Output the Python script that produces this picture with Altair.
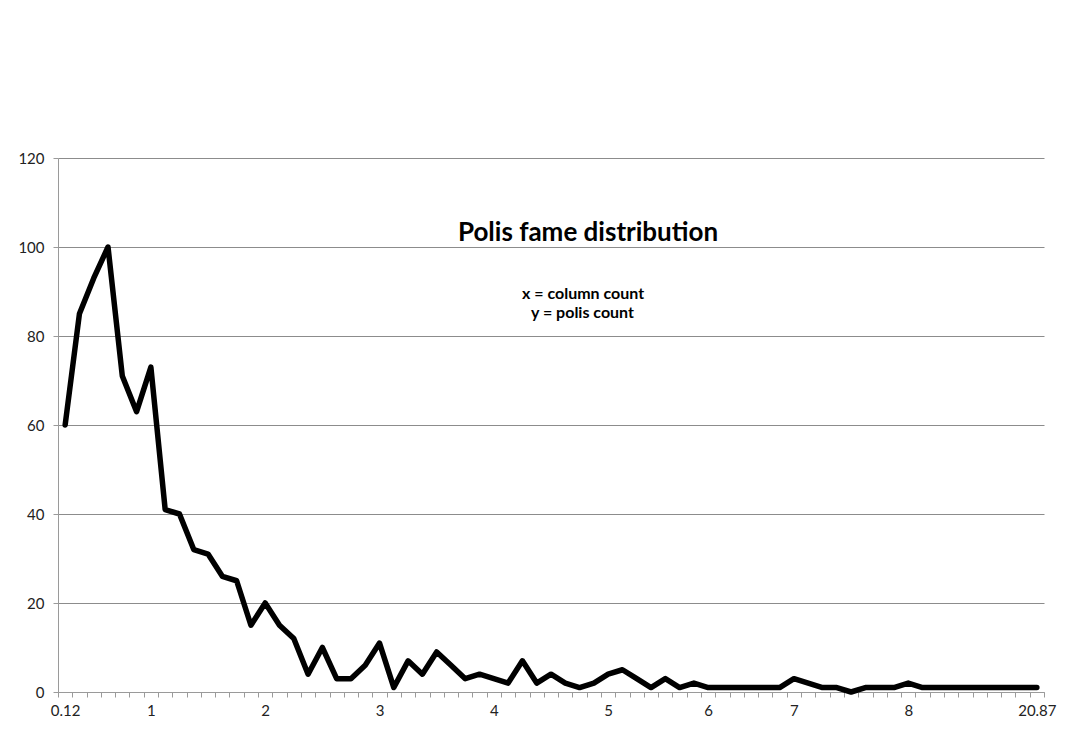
import json
import altair as alt
import pandas as pd

# polis count per column-count category (69 categories)
counts = [60, 85, 93, 100, 71, 63, 73, 41, 40, 32,
          31, 26, 25, 15, 20, 15, 12, 4, 10, 3,
          3, 6, 11, 1, 7, 4, 9, 6, 3, 4,
          3, 2, 7, 2, 4, 2, 1, 2, 4, 5,
          3, 1, 3, 1, 2, 1, 1, 1, 1, 1,
          1, 3, 2, 1, 1, 0, 1, 1, 1, 2,
          1, 1, 1, 1, 1, 1, 1, 1, 1]

# categories that carry a visible label on the x axis
label_index = [0, 6, 14, 22, 30, 38, 45, 51, 59, 68]
label_text = ["0.12", "1", "2", "3", "4", "5", "6", "7", "8", "20.87"]

y_ticks = [0, 20, 40, 60, 80, 100, 120]

title_text = "Polis fame distribution"
note_lines = ["x = column count", "y = polis count"]

df = pd.DataFrame({"idx": list(range(len(counts))), "count": counts})

label_expr = (
    f"indexof({json.dumps(label_index)}, datum.value) >= 0 ? "
    f"{json.dumps(label_text)}[indexof({json.dumps(label_index)}, datum.value)] : ''"
)

FONT = "Lato"
AXIS_GRAY = "#9a9a9a"

line = alt.Chart(df).mark_line(
    color="black", strokeWidth=5.5, strokeJoin="round", strokeCap="round"
).encode(
    x=alt.X(
        "idx:O",
        scale=alt.Scale(paddingInner=0, paddingOuter=0),
        axis=alt.Axis(
            title=None,
            labelAngle=0,
            labelExpr=label_expr,
            labelOverlap=False,
            tickBand="extent",
            tickSize=5,
            tickColor=AXIS_GRAY,
            domainColor=AXIS_GRAY,
            grid=False,
            labelFont=FONT,
            labelFontSize=15,
            labelColor="#222222",
            labelPadding=6,
        ),
    ),
    y=alt.Y(
        "count:Q",
        scale=alt.Scale(domain=[0, 120], nice=False, zero=True),
        axis=alt.Axis(
            title=None,
            values=y_ticks,
            grid=True,
            gridColor="#8c8c8c",
            gridWidth=1,
            tickSize=5,
            tickColor=AXIS_GRAY,
            domainColor=AXIS_GRAY,
            labelFont=FONT,
            labelFontSize=15,
            labelColor="#222222",
            labelPadding=9,
        ),
    ),
)

title_mark = alt.Chart(pd.DataFrame({"t": [title_text]})).mark_text(
    font=FONT, fontSize=26, fontWeight="bold", color="black",
    align="center", baseline="middle"
).encode(x=alt.value(530), y=alt.value(75), text="t:N")

note1 = alt.Chart(pd.DataFrame({"t": [note_lines[0]]})).mark_text(
    font=FONT, fontSize=16, fontWeight="bold", color="black",
    align="left", baseline="middle"
).encode(x=alt.value(464), y=alt.value(136), text="t:N")

note2 = alt.Chart(pd.DataFrame({"t": [note_lines[1]]})).mark_text(
    font=FONT, fontSize=16, fontWeight="bold", color="black",
    align="left", baseline="middle"
).encode(x=alt.value(473), y=alt.value(155), text="t:N")

chart = alt.layer(line, title_mark, note1, note2).properties(
    width=986,
    height=534,
    padding={"left": 50, "top": 150, "right": 18, "bottom": 29},
    autosize=alt.AutoSizeParams(type="none"),
).configure_view(stroke=None)

chart.save("out.html", embed_options={"renderer": "svg", "actions": False})
